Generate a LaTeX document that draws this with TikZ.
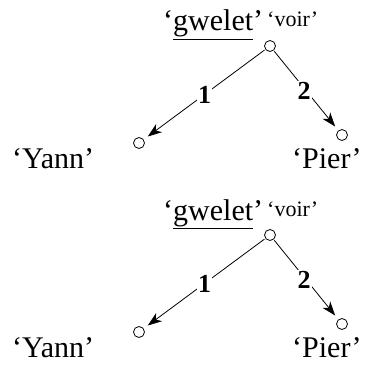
\documentclass[tikz,border=0pt]{standalone}
\usepackage{fontspec}
\setmainfont{Liberation Serif}
\usetikzlibrary{arrows.meta}
\begin{document}
\begin{tikzpicture}[x=1pt,y=-1pt,
  vert/.style={circle,draw,inner sep=0pt,minimum size=11pt,line width=0.8pt},
  word/.style={font=\fontsize{30}{32}\selectfont,inner sep=0pt,anchor=base west},
  gloss/.style={font=\fontsize{22}{24}\selectfont,inner sep=0pt,anchor=base west},
  dep/.style={-{Stealth[length=14pt,width=10pt,inset=4pt]},line width=0.8pt,shorten >=5pt,shorten <=1pt},
  num/.style={font=\bfseries\fontsize{26}{28}\selectfont,fill=white,inner sep=1pt}]
\useasboundingbox (0,0) rectangle (364,374);
\foreach \dy/\s in {0/a,189/b} {
 \begin{scope}[yshift=-\dy pt]
  \node[word] (g\s) at (163,31) {‘\underline{gwelet}’};
  \node[gloss] (v\s) at (267,27) {‘voir’};
  \node[vert] (t\s) at (270,46) {};
  \node[vert] (l\s) at (139,143) {};
  \node[vert] (r\s) at (342,135) {};
  \node[word] (y\s) at (12,168) {‘Yann’};
  \node[word] (p\s) at (292,168) {‘Pier’};
  \draw[dep] (t\s) -- node[num,pos=0.5]{1} (l\s);
  \draw[dep] (t\s) -- node[num,pos=0.5,xshift=-2pt]{2} (r\s);
 \end{scope}
}
\end{tikzpicture}
\end{document}
